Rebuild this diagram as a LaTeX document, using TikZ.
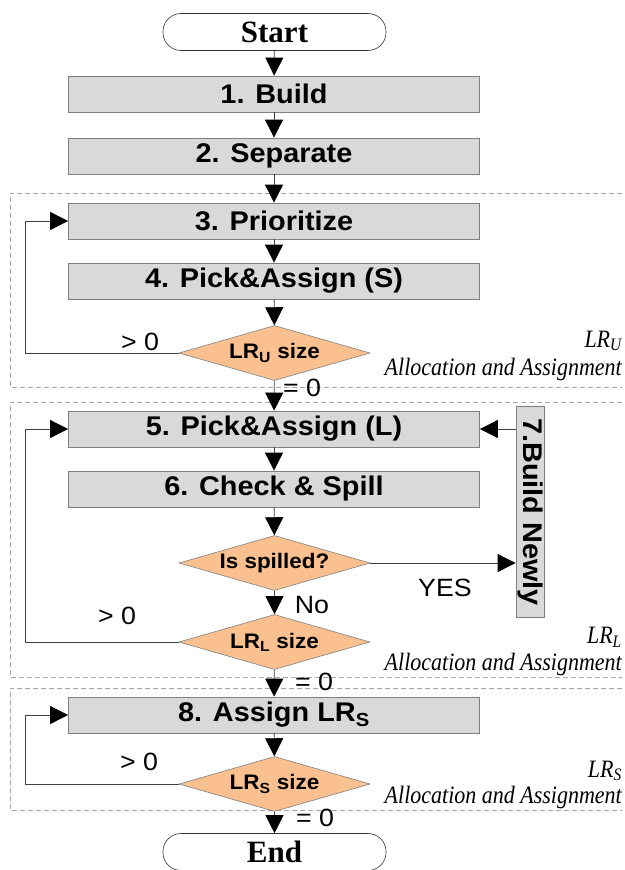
\documentclass[tikz,border=0pt]{standalone}
\usepackage{fontspec}
\setmainfont{Liberation Serif}
\setsansfont{Liberation Sans}
\newfontfamily\boxfont{Liberation Sans}[FakeStretch=1.07]
\newfontfamily\capfont{Liberation Serif}[FakeStretch=0.88]
\usetikzlibrary{shapes.geometric,arrows.meta}

\definecolor{boxgray}{HTML}{D9D9D9}
\definecolor{boxedge}{HTML}{7F7F7F}
\definecolor{decfill}{HTML}{FAC090}
\definecolor{regionedge}{HTML}{A6A6A6}
\definecolor{wire}{HTML}{404040}

\begin{document}
\begin{tikzpicture}[x=1pt,y=-1pt,
  stepbox/.style={draw=boxedge, fill=boxgray, line width=0.8pt,
    minimum width=411pt, minimum height=36pt, inner sep=0pt,
    font=\fontsize{27}{30}\boxfont\bfseries},
  sidebox/.style={draw=boxedge, fill=boxgray, line width=0.8pt,
    minimum width=211pt, minimum height=28pt, inner sep=0pt, rotate=-90,
    font=\fontsize{27}{30}\boxfont\bfseries},
  terminal/.style={draw=black!80, fill=white, line width=0.6pt,
    rounded corners=18pt, minimum width=223pt, minimum height=37pt, inner sep=0pt,
    font=\fontsize{31}{33}\rmfamily\bfseries},
  decision/.style={diamond, draw=boxedge, fill=decfill, line width=0.6pt,
    minimum width=191pt, minimum height=55pt, inner sep=0pt, aspect=3.4,
    font=\fontsize{21}{23}\boxfont\bfseries},
  flow/.style={-{Triangle[width=18pt,length=18pt,color=black]}, line width=0.8pt, draw=wire},
  region/.style={draw=regionedge, dash pattern=on 5pt off 3pt, line width=0.7pt},
  branch/.style={font=\fontsize{25}{27}\boxfont, inner sep=0pt},
  regionlabel/.style={anchor=east, inner sep=0pt,
    font=\fontsize{25}{27}\capfont\itshape},
]
\useasboundingbox (0,0) rectangle (624,870);

% grouped phases
\draw[region] (622,193) -- (10,193) -- (10,387) -- (622,387);
\draw[region] (622,402) -- (10,402) -- (10,677) -- (622,677);
\draw[region] (622,688) -- (10,688) -- (10,810) -- (622,810);

% main column
\node[terminal] (start) at (274.5,32) {Start};
\node[stepbox] (build) at (274,94) {1. Build};
\node[stepbox] (sep) at (274,156) {2. Separate};
\node[stepbox] (prio) at (274,221) {3. Prioritize};
\node[stepbox] (pickS) at (274,281) {4. Pick\&Assign (S)};
\node[decision] (lru) at (274.5,353) {LR\textsubscript{U} size};
\node[stepbox] (pickL) at (274,429) {5. Pick\&Assign (L)};
\node[stepbox] (check) at (274,489) {6. Check \& Spill};
\node[decision] (spill) at (274.5,563) {Is spilled?};
\node[decision] (lrl) at (274.5,642) {LR\textsubscript{L} size};
\node[stepbox] (assign) at (274,715) {8. Assign LR\textsubscript{S}};
\node[decision] (lrs) at (274.5,784) {LR\textsubscript{S} size};
\node[terminal] (end) at (274.5,852) {End};

% rebuild step on the side
\node[sidebox] (rebuild) at (530,512) {7.Build Newly};

% loop-back corners
\coordinate (loopU) at (25,353);
\coordinate (loopL) at (25,642);
\coordinate (loopS) at (25,784);

% connectors
\draw[flow] (start) -- (build);
\draw[flow] (build) -- (sep);
\draw[flow] (sep) -- (prio);
\draw[flow] (prio) -- (pickS);
\draw[flow] (pickS) -- (lru);
\draw[flow] (lru.west) -- (loopU) |- (prio.west);
\draw[flow] (lru) -- (pickL);
\draw[flow] (pickL) -- (check);
\draw[flow] (check) -- (spill);
\draw[flow] (spill.east) -- (spill.east -| rebuild.south);
\draw[flow] (rebuild.south |- pickL) -- (pickL.east);
\draw[flow] (spill) -- (lrl);
\draw[flow] (lrl.west) -- (loopL) |- (pickL.west);
\draw[flow] (lrl) -- (assign);
\draw[flow] (assign) -- (lrs);
\draw[flow] (lrs.west) -- (loopS) |- (assign.west);
\draw[flow] (lrs) -- (end);

% branch labels
\node[branch] (gtU) at (140,342) {> 0};
\node[branch] (eqU) at (302,388) {= 0};
\node[branch] (yes) at (445,588) {YES};
\node[branch] (no) at (312,605) {No};
\node[branch] (gtL) at (117,616) {> 0};
\node[branch] (eqL) at (314,682) {= 0};
\node[branch] (gtS) at (139,762) {> 0};
\node[branch] (eqS) at (315,818) {= 0};

% phase captions
\node[regionlabel] (capU1) at (622,341) {LR\textsubscript{U}};
\node[regionlabel] (capU2) at (622,369) {Allocation and Assignment};
\node[regionlabel] (capL1) at (622,637) {LR\textsubscript{L}};
\node[regionlabel] (capL2) at (622,664) {Allocation and Assignment};
\node[regionlabel] (capS1) at (622,771) {LR\textsubscript{S}};
\node[regionlabel] (capS2) at (622,797) {Allocation and Assignment};
\end{tikzpicture}
\end{document}
